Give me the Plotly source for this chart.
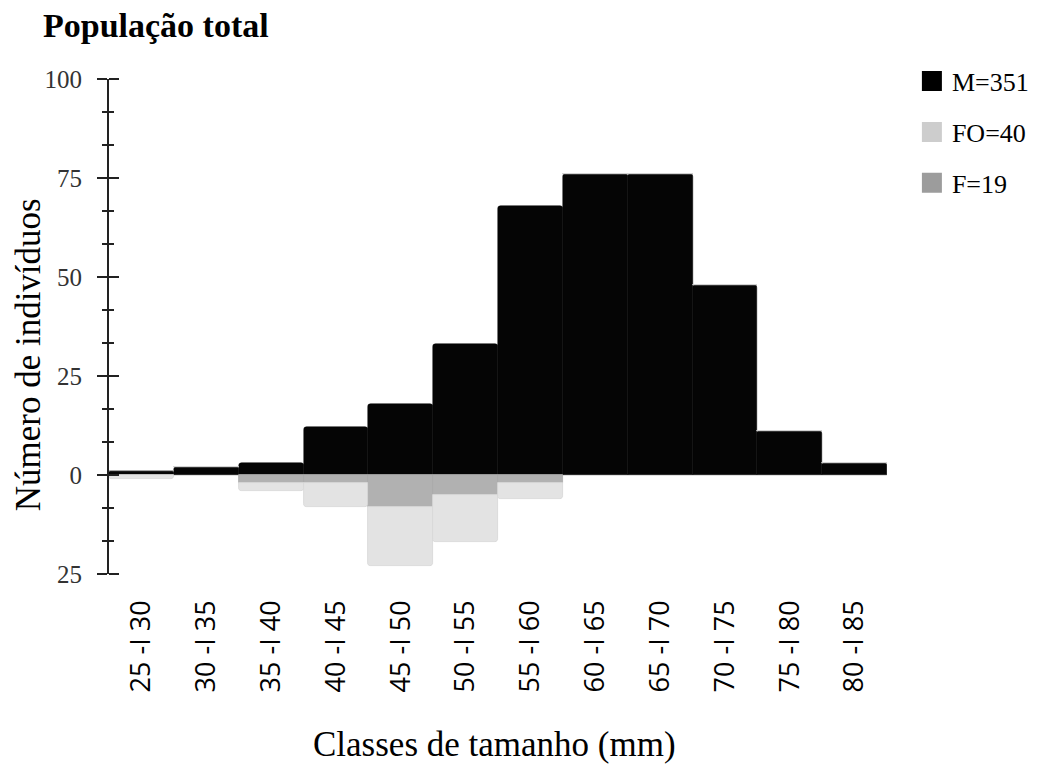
import plotly.graph_objects as go

categories = ["25 -I 30", "30 -I 35", "35 -I 40", "40 -I 45", "45 -I 50", "50 -I 55",
              "55 -I 60", "60 -I 65", "65 -I 70", "70 -I 75", "75 -I 80", "80 -I 85"]
machos = [1, 2, 3, 12, 18, 33, 68, 76, 76, 48, 11, 3]
femeas = [0, 0, 2, 2, 8, 5, 2, 0, 0, 0, 0, 0]
femeas_ovigeras = [1, 0, 2, 6, 15, 12, 4, 0, 0, 0, 0, 0]

y_tickvals = [-25, 0, 25, 50, 75, 100]
y_ticktext = ["25", "0", "25", "50", "75", "100"]

C_M = "#050505"
C_FO = "#e3e3e3"
C_F = "#b1b1b1"
SERIF = "Liberation Serif"

fig = go.Figure()
fig.add_trace(go.Bar(x=categories, y=machos, marker=dict(color=C_M, line=dict(color=C_M, width=0.5)),
                     showlegend=False, name="M=351"))
fig.add_trace(go.Bar(x=categories, y=[-v for v in femeas], marker=dict(color=C_F, line=dict(color="#a8a8a8", width=0.8)),
                     showlegend=False, name="F=19"))
fig.add_trace(go.Bar(x=categories, y=[-v for v in femeas_ovigeras], marker=dict(color=C_FO, line=dict(color="#d6d6d6", width=0.8)),
                     showlegend=False, name="FO=40"))

# legend entries
for nm, col, rk in [("M=351", "#000000", 1), ("FO=40", "#cdcdcd", 2), ("F=19", "#9c9c9c", 3)]:
    fig.add_trace(go.Scatter(x=[None], y=[None], mode="markers", name=nm, legendrank=rk,
                             legendgroup=nm,
                             marker=dict(symbol="square", size=16, color=col, line=dict(color=col, width=4))))

# invisible traces on overlaid axes (they draw the right half of the y ticks)
for ax in ("y2", "y3"):
    fig.add_trace(go.Scatter(x=[categories[0]], y=[0], yaxis=ax, mode="markers",
                             marker=dict(opacity=0), showlegend=False, hoverinfo="skip"))

PLOT_W = 778
TICK = 10
MINOR = 5

fig.update_layout(
    width=1033, height=757,
    barmode="relative", bargap=0, barcornerradius=3,
    plot_bgcolor="rgba(0,0,0,0)", paper_bgcolor="white",
    margin=dict(l=101, r=154, t=71, b=191, autoexpand=False),
    title=dict(text="<b>População total</b>", x=35/1033, xanchor="left", y=1-17/757, yanchor="middle",
               font=dict(family=SERIF, size=34, color="#000")),
    legend=dict(x=1.032, xanchor="left", y=1.043, yanchor="top", tracegroupgap=14,
                font=dict(family=SERIF, size=26, color="#000"), itemsizing="trace"),
    xaxis=dict(type="category", range=[-0.5, 11.5], showline=False, ticks="", tickangle=-90,
               ticklabelstandoff=20,
               tickfont=dict(family="Open Sans", size=27, color="#000"),
               showgrid=False, zeroline=False),
    yaxis=dict(range=[-25, 100], tickmode="array", tickvals=y_tickvals, ticktext=y_ticktext,
               ticks="outside", ticklen=TICK, tickwidth=1.5, tickcolor="#222",
               ticklabelstandoff=10,
               showline=True, linecolor="#222", linewidth=2,
               minor=dict(dtick=25/3, tick0=0, ticks="outside", ticklen=MINOR, tickwidth=1.5, tickcolor="#222"),
               tickfont=dict(family=SERIF, size=25, color="#333"),
               showgrid=False, zeroline=False),
    # right half of major ticks
    yaxis2=dict(overlaying="y", anchor="free", position=TICK / PLOT_W, side="left",
                range=[-25, 100], tickmode="array", tickvals=y_tickvals,
                ticks="outside", ticklen=TICK, tickwidth=1.5, tickcolor="#222",
                showticklabels=False, showline=False, showgrid=False, zeroline=False),
    # right half of minor ticks
    yaxis3=dict(overlaying="y", anchor="free", position=MINOR / PLOT_W, side="left",
                range=[-25, 100], tickmode="linear", tick0=0, dtick=25/3,
                ticks="outside", ticklen=MINOR, tickwidth=1.5, tickcolor="#222",
                showticklabels=False, showline=False, showgrid=False, zeroline=False),
    annotations=[
        dict(text="Número de indivíduos", xref="paper", yref="paper", x=-0.104, y=0.442,
             textangle=-90, xanchor="center", yanchor="middle", showarrow=False,
             font=dict(family=SERIF, size=35, color="#000")),
        dict(text="Classes de tamanho (mm)", xref="paper", yref="paper", x=0.496, y=-0.345,
             xanchor="center", yanchor="middle", showarrow=False,
             font=dict(family=SERIF, size=35, color="#000")),
    ],
)

fig.write_html("out.html")
